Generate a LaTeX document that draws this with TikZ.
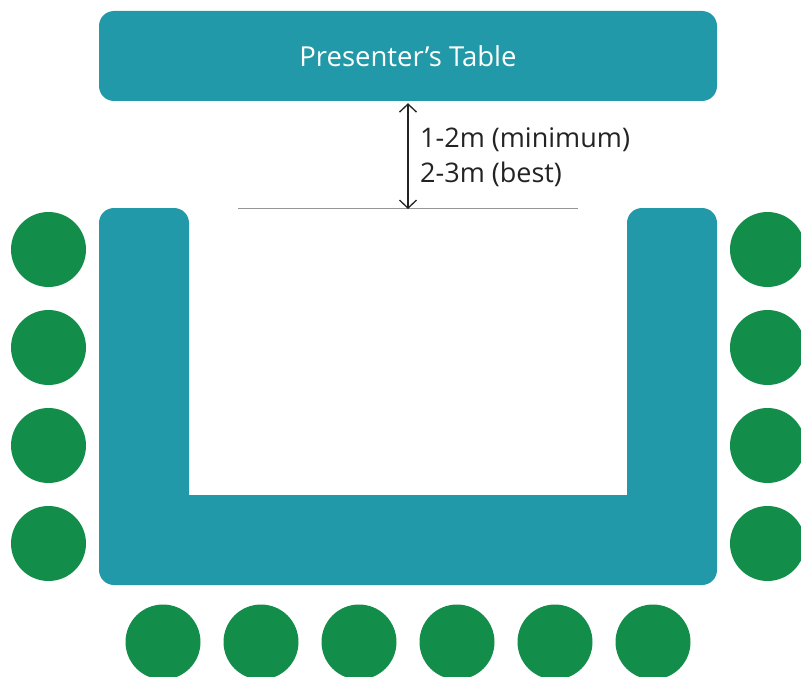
\documentclass[tikz,border=0pt]{standalone}
\usepackage{fontspec}
\setmainfont{Open Sans}
\usetikzlibrary{arrows.meta}
\definecolor{tablecol}{RGB}{34,153,168}
\definecolor{seatcol}{RGB}{18,141,74}
\definecolor{guide}{RGB}{150,150,150}
\definecolor{ink}{RGB}{35,35,35}
\tikzset{
  tablebox/.style={fill=tablecol, draw=none, rounded corners=15pt, inner sep=0pt},
  seat/.style={circle, fill=seatcol, draw=none, minimum size=75pt, inner sep=0pt},
  barb/.tip={Straight Barb[length=8pt,width=17pt,line width=1.3pt]},
  dist/.style={draw=ink, line width=1.3pt, barb-barb},
  note/.style={text=ink, font=\fontsize{27}{35}\selectfont, align=left, anchor=base west, inner sep=0pt}
}
\begin{document}
\begin{tikzpicture}[x=1pt, y=-1pt]
\useasboundingbox (0,0) rectangle (801,677);

% presenter's table
\node[tablebox, minimum width=618pt, minimum height=90pt, text=white,
      font=\fontsize{27.5}{32}\selectfont] (pt) at (408,56) {Presenter’s Table};

% U-shaped table
\path[fill=tablecol] (99,400) [rounded corners=15pt] -- (99,208) -- (189,208) -- (189,300)
  [sharp corners] -- (189,495) -- (627,495) -- (627,300)
  [rounded corners=15pt] -- (627,208) -- (717,208) -- (717,585) -- (99,585) -- cycle;

% distance marker
\coordinate (lineL) at (238,208);
\coordinate (lineR) at (578,208);
\coordinate (gap) at (408,208);
\draw[guide, line width=0.9pt] (lineL) -- (lineR);
\draw[dist] ([yshift=-2pt]pt.south -| gap) -- ([yshift=-1pt]gap);
% anchored on the baseline of the last line
\node[note] (dtext) at (420,182) {1-2m (minimum)\\2-3m (best)};

% seats, left and right sides
\foreach \i/\y in {1/249.5, 2/347.5, 3/445.5, 4/543.5} {
  \node[seat] (L\i) at (48.5,\y) {};
  \node[seat] (R\i) at (767.5,\y) {};
}
% seats, bottom row
\foreach \i/\x in {1/163, 2/261, 3/359, 4/457, 5/555, 6/653} {
  \node[seat] (B\i) at (\x,642) {};
}
\end{tikzpicture}
\end{document}
